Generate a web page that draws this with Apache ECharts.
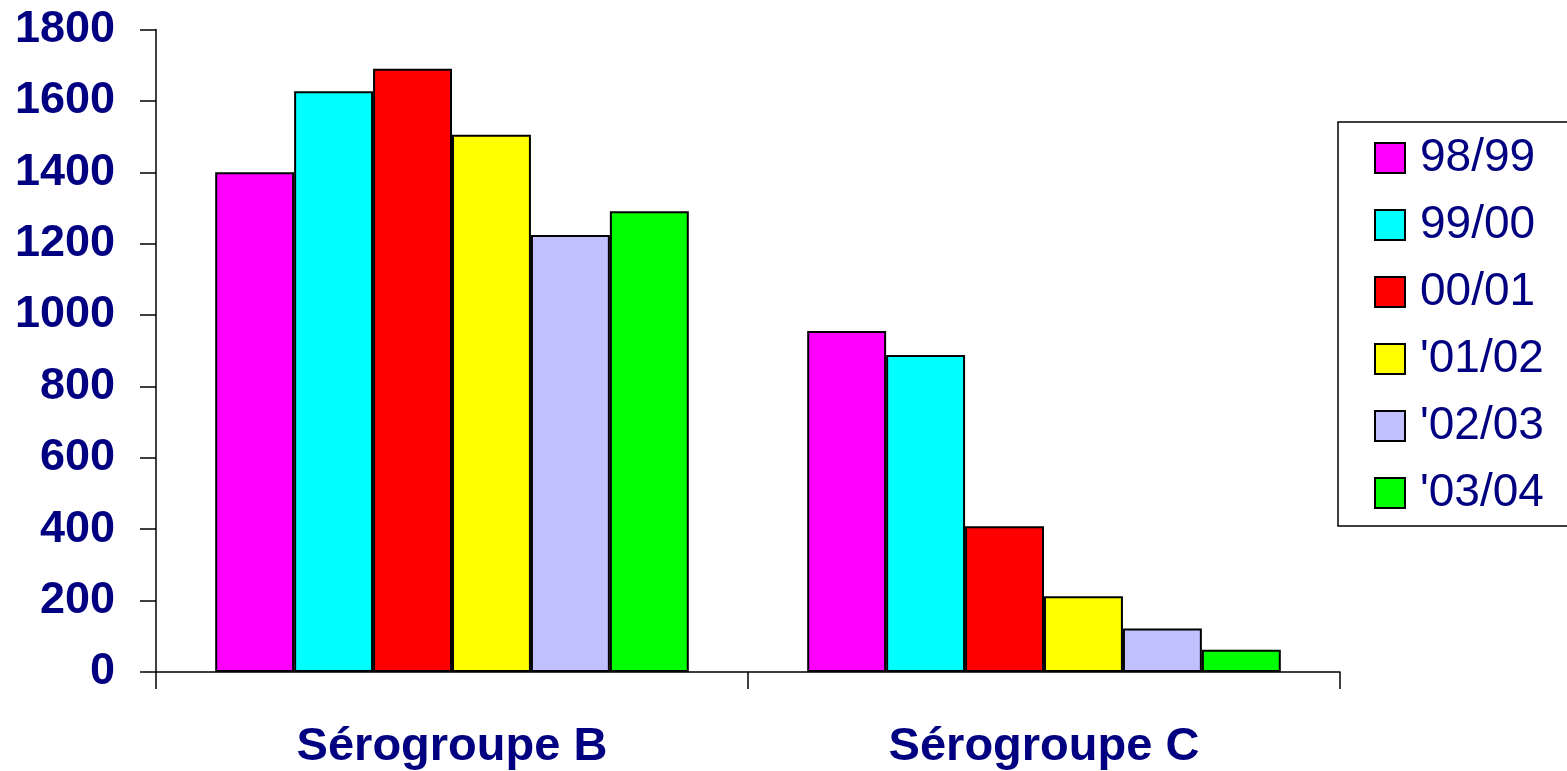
<!DOCTYPE html>
<html>
<head>
<meta charset="utf-8">
<script src="https://cdn.jsdelivr.net/npm/echarts@6/dist/echarts.min.js"></script>
<style>
  html, body { margin: 0; padding: 0; background: #ffffff; }
  #chart { width: 1567px; height: 771px; }
</style>
</head>
<body>
<div id="chart"></div>
<script>
// Serogroup categories and seasons
const categories = ['Sérogroupe B', 'Sérogroupe C'];
const seasons = ['98/99', '99/00', '00/01', "'01/02", "'02/03", "'03/04"];

// Case counts per season, ordered as the categories
const s9899 = [1400, 955];
const s9900 = [1627, 888];
const s0001 = [1690, 408];
const s0102 = [1505, 212];
const s0203 = [1224, 122];
const s0304 = [1291, 62];

const yTicks = { min: 0, max: 1800, interval: 200 };

const seriesValues = [s9899, s9900, s0001, s0102, s0203, s0304];
const colors = ['#FF00FF', '#00FFFF', '#FF0000', '#FFFF00', '#C0C0FF', '#00FF00'];

const navy = '#000080';
const fontFamily = '"Liberation Sans", Arial, sans-serif';

const chart = echarts.init(document.getElementById('chart'), null, { renderer: 'canvas' });

chart.setOption({
  backgroundColor: '#ffffff',
  animation: false,
  grid: { left: 156, right: 227, top: 29.5, bottom: 98, containLabel: false },
  legend: {
    orient: 'vertical',
    left: 1338,
    top: 122,
    padding: [13, 60, 10, 36],
    icon: 'rect',
    itemWidth: 30,
    itemHeight: 30,
    itemGap: 21,
    borderColor: '#000000',
    borderWidth: 1.5,
    textStyle: { color: navy, fontSize: 46, fontFamily: fontFamily, lineHeight: 46, padding: [0, 0, 0, 10] },
    data: seasons
  },
  xAxis: {
    type: 'category',
    data: categories,
    boundaryGap: true,
    axisLine: { lineStyle: { color: '#000000', width: 1.5 } },
    axisTick: { show: true, alignWithLabel: false, length: 17, lineStyle: { color: '#000000', width: 1.5 } },
    axisLabel: { color: navy, fontSize: 47, fontWeight: 'bold', fontFamily: fontFamily, margin: 52 },
    splitLine: { show: false }
  },
  yAxis: {
    type: 'value',
    min: yTicks.min,
    max: yTicks.max,
    interval: yTicks.interval,
    axisLine: { show: true, lineStyle: { color: '#000000', width: 1.5 } },
    axisTick: { show: true, length: 16, lineStyle: { color: '#000000', width: 1.5 } },
    axisLabel: {
      color: navy, fontSize: 45, fontWeight: 'bold', fontFamily: fontFamily, margin: 41,
      formatter: (v) => String(v)
    },
    splitLine: { show: false }
  },
  series: seasons.map((name, i) => ({
    name: name,
    type: 'bar',
    data: seriesValues[i],
    barGap: '0%',
    barCategoryGap: '20%',
    itemStyle: { color: colors[i], borderColor: '#000000', borderWidth: 2 }
  }))
});
</script>
</body>
</html>
